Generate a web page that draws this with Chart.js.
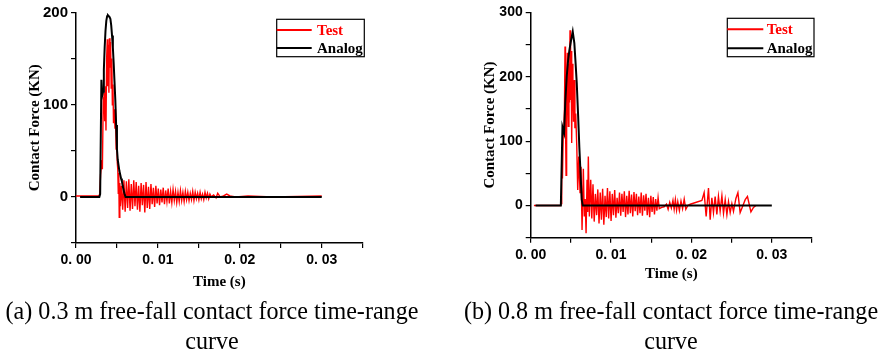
<!DOCTYPE html>
<html>
<head>
<meta charset="utf-8">
<script src="https://cdn.jsdelivr.net/npm/chart.js"></script>
<style>
  body { margin: 0; background: #fff; width: 881px; height: 356px; position: relative; overflow: hidden; }
  canvas { position: absolute; top: 0; }
  #chartA { left: 0; }
  #chartB { left: 440px; }
  .caption {
    position: absolute; top: 296px; width: 460px; text-align: center;
    font-family: 'Liberation Serif', 'Times New Roman', serif; font-size: 26px;
    line-height: 30px; color: #000; white-space: nowrap;
    transform: scaleX(0.927); transform-origin: center top;
  }
</style>
</head>
<body>
<canvas id="chartA" width="440" height="300"></canvas>
<canvas id="chartB" width="440" height="300"></canvas>
<div class="caption" style="left:-18px">(a) 0.3 m free-fall contact force time-range<br>curve</div>
<div class="caption" style="left:441px">(b) 0.8 m free-fall contact force time-range<br>curve</div>
<script>
// times are in ms, forces in kN

// (a) 0.3 m drop
const testATime = [0, 2.8, 2.9, 3.0, 3.15, 3.22, 3.33, 3.38, 3.42, 3.5,
  3.58, 3.66, 3.74, 3.82, 3.88, 3.94, 4.02, 4.08, 4.15, 4.22,
  4.3, 4.37, 4.44, 4.51, 4.58, 4.66, 4.76, 4.82, 4.9, 4.96,
  5.04, 5.1, 5.16, 5.22, 5.28, 5.35, 5.42,
  5.55, 5.7, 5.85, 6.0, 6.15, 6.3, 6.45, 6.6, 6.75, 6.9,
  7.05, 7.2, 7.35, 7.5, 7.65, 7.8, 7.95, 8.1, 8.25, 8.4,
  8.55, 8.7, 8.85, 9.0, 9.15, 9.3, 9.45, 9.6, 9.75, 9.9,
  10.05, 10.2, 10.35, 10.5, 10.65, 10.8, 10.95, 11.1, 11.25, 11.4,
  11.55, 11.7, 11.85, 12.0, 12.15, 12.3, 12.45, 12.6, 12.75, 12.9,
  13.05, 13.2, 13.35, 13.5, 13.65, 13.8, 13.95, 14.1, 14.25, 14.4,
  14.55, 14.7, 14.85, 15.0, 15.15, 15.3, 15.45, 15.6, 15.75, 15.9,
  16.05, 16.2, 16.35, 16.5,
  16.8, 17.1, 17.3, 17.6, 18.0, 18.4, 18.8, 19.5, 21, 24, 27, 30];
const testAForce = [1, 1, 3, 24, 40, 30, 108, 90, 113, 82,
  120, 72, 150, 171, 120, 165, 113, 172, 140, 168,
  118, 150, 100, 122, 80, 95, 74, 95, 52, 66,
  37, 30, 4, 26, -22, 15, -10,
  12, -14, 18, -16, 17, -12, 19, -15, 14, -13,
  18, -10, 16, -14, 12, -16, 15, -9, 13, -17,
  16, -12, 11, -13, 14, -8, 10, -11, 12, -7,
  9, -9, 8, -6, 10, -8, 7, -5, 9, -7,
  6, -6, 8, -4, 6, -6, 5, -5, 7, -4,
  5, -5, 6, -3, 5, -4, 4, -3, 6, -4,
  5, -2, 4, -3, 5, -2, 3, -3, 5, -1,
  4, -2, 3, 0,
  2, -1, 4, 0, 1, 3, 1, 0, 1, 0, 0.5, 1];
const analogATime = [0.5, 2.85, 2.95, 3.1, 3.2, 3.3, 3.4, 3.5, 3.6, 3.7, 3.8, 3.9,
  4.0, 4.1, 4.2, 4.3, 4.4, 4.5, 4.6, 4.7, 4.8, 4.9, 5.0, 5.1, 5.2, 5.3, 5.4,
  5.5, 5.6, 5.7, 5.8, 5.9, 6.05, 30];
const analogAForce = [0, 0, 3, 127, 110, 114, 138, 162, 180, 191, 196, 197,
  196, 195, 193, 186, 175, 162, 145, 125, 105, 78, 52, 40, 34, 28, 24,
  20, 17, 12, 8, 4, 0, 0];

// (b) 0.8 m drop
const testBTime = [0.4, 3.72, 3.8, 3.86, 3.95, 4.06, 4.12, 4.2, 4.27, 4.33,
  4.4, 4.47, 4.56, 4.63, 4.68, 4.76, 4.82, 4.89, 4.96, 5.03,
  5.1, 5.18, 5.25, 5.33, 5.43, 5.5, 5.6, 5.73, 5.85, 5.98,
  6.14, 6.26, 6.39, 6.55, 6.67, 6.78, 6.89, 7.01, 7.09, 7.17,
  7.3, 7.47,
  7.6, 7.75, 7.9, 8.05, 8.2, 8.35, 8.5, 8.65, 8.8, 8.95,
  9.1, 9.25, 9.4, 9.55, 9.7, 9.85, 10.0, 10.15, 10.3, 10.45,
  10.6, 10.75, 10.9, 11.05, 11.2, 11.35, 11.5, 11.65, 11.8, 11.95,
  12.1, 12.25, 12.4, 12.55, 12.7, 12.85, 13.0, 13.15, 13.3, 13.45,
  13.6, 13.75, 13.9, 14.05, 14.2, 14.35, 14.5, 14.65, 14.8, 14.95,
  15.1, 15.25, 15.4, 15.55, 15.7, 15.85,
  16.0, 16.3, 16.6, 16.9, 17.1, 17.3, 17.5, 17.7, 17.85, 18.0,
  18.15, 18.3, 18.5, 18.7, 18.9, 19.1, 19.3, 19.55, 19.85, 21.3,
  21.58, 21.83, 22.12, 22.33, 22.54, 22.74, 22.95, 23.16, 23.36, 23.57,
  23.79, 23.99, 24.2, 24.41, 24.61, 24.82, 25.03, 25.23, 25.53, 25.78,
  26.06, 26.35, 26.69, 26.97, 27.4, 27.72, 28.02];
const testBForce = [0, 0, 3, 66, 42, 122, 112, 150, 247, 130,
  47, 180, 237, 150, 123, 220, 160, 272, 164, 240,
  97, 220, 195, 130, 195, 120, 143, 94, 24, 76,
  19, 60, -38, 57, -17, 10, -43, 40, -10, 76,
  -17, 40,
  -20, 33, -25, 18, -15, 25, -28, 20, -22, 26,
  -30, 15, -18, 27, -20, 22, -24, 18, -15, 24,
  -19, 12, -12, 20, -16, 18, -10, 22, -18, 15,
  -14, 23, -12, 17, -17, 21, -9, 18, -15, 14,
  -12, 20, -16, 16, -8, 18, -15, 12, -18, 15,
  -10, 13, -14, 10, -8, 12,
  -5, -3, -2, 2, -6, 5, -4, 8, -6, 9,
  -7, 6, -8, 7, -5, 10, -6, 0, 2, 8,
  20, -17, 27, -22, 12, -11, 14, -14, 14, -9,
  15, -12, 9, -14, 6, -11, 3, -9, 11, 20,
  -11, -2, 9, 14, -10, -3, 0];
const analogBTime = [0.6, 3.75, 3.95, 4.15, 4.3, 4.48, 4.65, 4.81, 5.0, 5.23,
  5.43, 5.58, 5.73, 5.9, 6.05, 6.2, 6.35, 6.48, 30];
const analogBForce = [0, 0, 122, 113, 160, 200, 225, 241, 255, 270,
  252, 222, 190, 140, 91, 50, 9, 0, 0];

const seriesNames = ['Test', 'Analog'];
const xTickLabels = ['0. 00', '0. 01', '0. 02', '0. 03'];

const serif = "'Liberation Serif', 'Times New Roman', serif";
const sans = "'Liberation Sans', Arial, sans-serif";

// little boxed legend like the Origin one
const boxLegend = {
  id: 'boxLegend',
  afterDraw(chart, args, opts) {
    if (!opts || opts.x === undefined) return;
    const ctx = chart.ctx;
    ctx.save();
    ctx.strokeStyle = '#000';
    ctx.lineWidth = 1.2;
    ctx.strokeRect(opts.x, opts.y, opts.w, opts.h);
    ctx.font = 'bold 15px ' + serif;
    ctx.textBaseline = 'middle';
    chart.data.datasets.forEach((ds, i) => {
      const y = opts.rows[i];
      ctx.strokeStyle = ds.borderColor;
      ctx.lineWidth = 2;
      ctx.beginPath();
      ctx.moveTo(opts.x, y);
      ctx.lineTo(opts.x + opts.lineLen, y);
      ctx.stroke();
      ctx.fillStyle = ds.borderColor;
      ctx.fillText(ds.label, opts.textX, y + 1);
    });
    ctx.restore();
  }
};
Chart.register(boxLegend);

function toPoints(times, forces) {
  return times.map((t, i) => ({ x: t / 1000, y: forces[i] }));
}

function makeChart(id, test, analog, cfg) {
  return new Chart(document.getElementById(id), {
    type: 'line',
    data: {
      datasets: [
        { label: seriesNames[0], data: test, borderColor: '#ff0000', backgroundColor: '#ff0000',
          borderWidth: 1.4, pointRadius: 0, tension: 0, order: 1 },
        { label: seriesNames[1], data: analog, borderColor: '#000000', backgroundColor: '#000000',
          borderWidth: 2, pointRadius: 0, tension: 0, order: 0 }
      ]
    },
    options: {
      responsive: false,
      animation: false,
      layout: { padding: { left: 0, top: cfg.top, right: cfg.right, bottom: 0 } },
      plugins: {
        legend: { display: false },
        tooltip: { enabled: false },
        boxLegend: cfg.legend
      },
      scales: {
        x: {
          type: 'linear', min: 0, max: 0.035,
          afterFit: s => { s.height = cfg.xHeight; },
          grid: { drawOnChartArea: false, drawTicks: true, tickLength: 5, tickColor: '#000', lineWidth: 1.2 },
          border: { color: '#000', width: 1.5 },
          ticks: {
            stepSize: 0.005, autoSkip: false, maxRotation: 0, color: '#000', padding: 4,
            font: { family: sans, weight: 'bold', size: 14 },
            callback: (v, i) => (i % 2 === 0 && xTickLabels[i / 2]) ? xTickLabels[i / 2] : ''
          },
          title: {
            display: true, text: 'Time (s)', color: '#000',
            font: { family: serif, weight: 'bold', size: 15 },
            padding: { top: 0, bottom: cfg.xTitlePad }
          }
        },
        y: {
          min: -50, max: cfg.yMax,
          afterFit: s => { s.width = cfg.yWidth; },
          grid: { drawOnChartArea: false, drawTicks: true, tickLength: 5, tickColor: '#000', lineWidth: 1.2 },
          border: { color: '#000', width: 1.5 },
          ticks: {
            stepSize: 50, autoSkip: false, color: '#000', padding: 3,
            font: { family: sans, weight: 'bold', size: cfg.yFont },
            callback: v => (v >= 0 && v % 100 === 0) ? String(v) : ''
          },
          title: {
            display: true, text: 'Contact Force (KN)', color: '#000',
            font: { family: serif, weight: 'bold', size: 15 },
            padding: { top: cfg.yTitlePad, bottom: 0 }
          }
        }
      }
    }
  });
}

makeChart('chartA', toPoints(testATime, testAForce), toPoints(analogATime, analogAForce), {
  yMax: 200, top: 12.5, right: 77.3, xHeight: 57, yWidth: 76,
  xTitlePad: 9.3, yTitlePad: 26, yFont: 15,
  legend: { x: 276.7, y: 19.3, w: 87.6, h: 37.4, lineLen: 35, textX: 317, rows: [30, 48] }
});

makeChart('chartB', toPoints(testBTime, testBForce), toPoints(analogBTime, analogBForce), {
  yMax: 300, top: 12.3, right: 68, xHeight: 62.3, yWidth: 90.7,
  xTitlePad: 17, yTitlePad: 41, yFont: 14,
  legend: { x: 287.3, y: 18.3, w: 86.7, h: 38.4, lineLen: 36, textX: 326.7, rows: [29.3, 48.3] }
});
</script>
</body>
</html>
